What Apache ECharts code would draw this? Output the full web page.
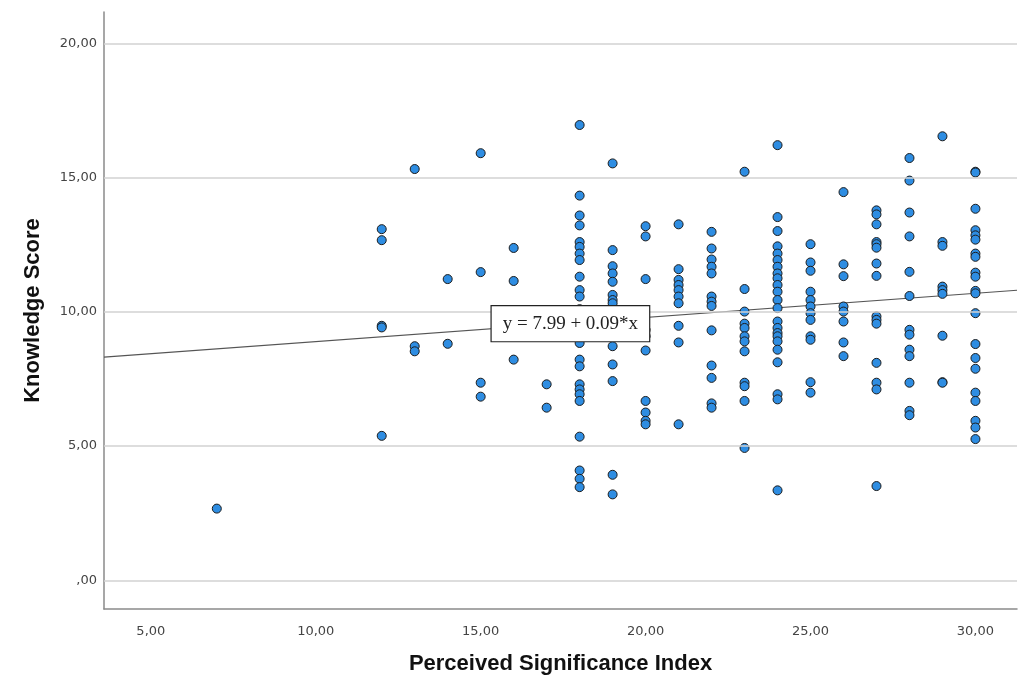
<!DOCTYPE html>
<html><head><meta charset="utf-8">
<script src="https://cdn.jsdelivr.net/npm/echarts@6/dist/echarts.min.js"></script>
<style>html,body{margin:0;padding:0;background:#fff}#c{width:1022px;height:680px}</style>
</head><body><div id="c"></div>
<script>
// Perceived Significance Index values (x) with the knowledge scores read at each x
const psiLevels = [7, 12, 13, 14, 15, 16, 17, 18, 19, 20, 21, 22, 23, 24, 25, 26, 27, 28, 29, 30];
const scores7  = [2.67];
const scores12 = [13.08, 12.67, 9.48, 9.42, 5.38];
const scores13 = [15.32, 8.72, 8.53];
const scores14 = [11.22, 8.81];
const scores15 = [15.91, 11.48, 7.36, 6.84];
const scores16 = [12.38, 11.15, 8.22];
const scores17 = [7.30, 6.43];
const scores18 = [16.96, 14.33, 13.59, 13.22, 12.6, 12.42, 12.17, 11.93, 11.31, 10.81, 10.57, 10.1, 9.6, 8.84, 8.22, 7.97, 7.30, 7.11, 6.93, 6.68, 5.35, 4.09, 3.78, 3.47];
const scores19 = [15.53, 12.3, 11.70, 11.43, 11.12, 10.63, 10.44, 10.32, 9.6, 8.72, 8.04, 7.42, 3.93, 3.20];
const scores20 = [13.19, 12.81, 11.22, 9.33, 9.09, 8.56, 6.68, 6.25, 5.94, 5.81];
const scores21 = [13.26, 11.59, 11.19, 11.0, 10.81, 10.57, 10.32, 9.48, 8.86, 5.81];
const scores22 = [12.98, 12.36, 11.95, 11.68, 11.43, 10.57, 10.38, 10.22, 9.31, 8.0, 7.54, 6.59, 6.43];
const scores23 = [15.22, 10.85, 10.01, 9.56, 9.40, 9.09, 8.90, 8.53, 7.36, 7.23, 6.68, 4.93];
const scores24 = [16.21, 13.53, 13.01, 12.44, 12.17, 11.93, 11.68, 11.43, 11.25, 11.0, 10.75, 10.44, 10.14, 9.64, 9.40, 9.21, 9.09, 8.90, 8.59, 8.12, 6.93, 6.74, 3.35];
const scores25 = [12.52, 11.84, 11.53, 10.75, 10.44, 10.20, 9.95, 9.70, 9.09, 8.96, 7.38, 6.99];
const scores26 = [14.46, 11.77, 11.33, 10.20, 10.01, 9.64, 8.86, 8.35];
const scores27 = [13.78, 13.63, 13.26, 12.6, 12.52, 12.39, 11.80, 11.34, 9.83, 9.70, 9.56, 8.10, 7.36, 7.11, 3.51];
const scores28 = [15.73, 14.89, 13.70, 12.81, 11.49, 10.59, 9.33, 9.15, 8.59, 8.35, 7.36, 6.31, 6.15];
const scores29 = [16.54, 12.6, 12.46, 10.94, 10.81, 10.67, 9.11, 7.38, 7.36];
const scores30 = [15.22, 15.19, 13.84, 13.04, 12.85, 12.69, 12.17, 12.05, 11.46, 11.31, 10.78, 10.69, 9.95, 8.80, 8.28, 7.88, 6.99, 6.68, 5.94, 5.69, 5.26];
const scoreColumns = [scores7, scores12, scores13, scores14, scores15, scores16, scores17, scores18, scores19, scores20,
  scores21, scores22, scores23, scores24, scores25, scores26, scores27, scores28, scores29, scores30];

// Fit line coefficients (from the figure's equation)
const intercept = 7.99;
const slope = 0.09;
const fitLabel = 'y = 7.99 + 0.09*x';
const fitLabelAt = [17.72, 9.56];

const xTicks = [5, 10, 15, 20, 25, 30];
const yTicks = [0, 5, 10, 15, 20];
const xRange = [3.58, 31.26];
const yRange = [-1.07, 21.17];

const pts = [];
psiLevels.forEach((x, i) => scoreColumns[i].forEach(y => pts.push([x, y])));
const fmt = v => {
  const s = v.toFixed(2).replace('.', ',');
  return s.startsWith('0,') ? s.slice(1) : s;
};

const chart = echarts.init(document.getElementById('c'));
chart.setOption({
  animation: false,
  backgroundColor: '#fff',
  grid: { left: 104, right: 5, top: 12, bottom: 68 },
  xAxis: {
    type: 'value', min: xRange[0], max: xRange[1],
    name: 'Perceived Significance Index', nameLocation: 'middle', nameGap: 44,
    nameTextStyle: { fontFamily: 'Liberation Sans Narrow, Liberation Sans', fontWeight: 'bold', fontSize: 22, color: '#111' },
    axisLine: { show: true, onZero: false, lineStyle: { color: '#8a8a8a', width: 1.5 } },
    axisTick: { show: false, customValues: xTicks },
    axisLabel: { customValues: xTicks, formatter: fmt, margin: 16, fontFamily: 'DejaVu Sans', fontSize: 13, color: '#444' },
    splitLine: { show: false }
  },
  yAxis: {
    type: 'value', min: yRange[0], max: yRange[1],
    name: 'Knowledge Score', nameLocation: 'middle', nameGap: 60,
    nameTextStyle: { fontFamily: 'Liberation Sans Narrow, Liberation Sans', fontWeight: 'bold', fontSize: 22, color: '#111' },
    axisLine: { show: true, onZero: false, lineStyle: { color: '#8a8a8a', width: 1.5 } },
    axisTick: { show: false, customValues: yTicks },
    axisLabel: { customValues: yTicks, formatter: fmt, margin: 7, fontFamily: 'DejaVu Sans', fontSize: 13, color: '#444' },
    splitLine: { show: false }
  },
  series: [
    {
      type: 'line', silent: true, symbol: 'none', data: [],
      markLine: {
        silent: true, symbol: 'none', label: { show: false },
        lineStyle: { color: '#d2d2d2', width: 1.5, type: 'solid' },
        data: yTicks.map(v => ({ yAxis: v }))
      }
    },
    {
      type: 'line', symbol: 'none', z: 3, silent: true,
      lineStyle: { color: '#555', width: 1.2 },
      data: xRange.map(x => [x, intercept + slope * x])
    },
    {
      type: 'scatter', symbol: 'circle', symbolSize: 9, z: 4,
      itemStyle: { color: '#2e8de2', borderColor: '#1c1c1c', borderWidth: 1, opacity: 1 },
      data: pts
    }
  ]
});

// equation box, placed through the axes' own scale
const p = chart.convertToPixel({ gridIndex: 0 }, fitLabelAt);
chart.setOption({
  graphic: [{
    type: 'text', zlevel: 1, z: 100, silent: true,
    x: p[0], y: p[1],
    style: {
      text: fitLabel, align: 'center', verticalAlign: 'middle',
      font: '19px "Liberation Serif"', fill: '#222',
      backgroundColor: '#ffffff', borderColor: '#222', borderWidth: 1.2,
      padding: [8, 11, 8, 11]
    }
  }]
});
</script></body></html>
